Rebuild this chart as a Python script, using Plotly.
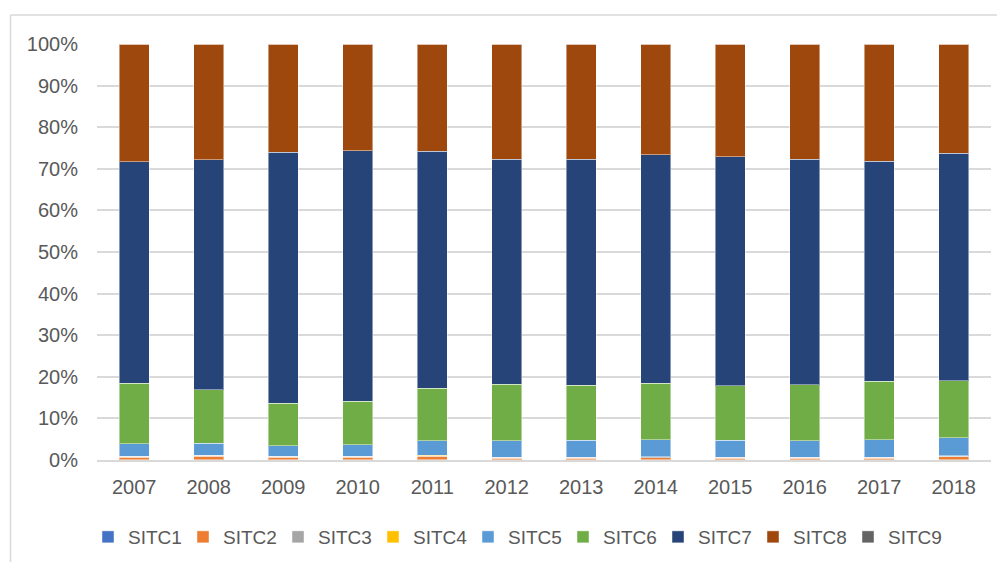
import plotly.graph_objects as go

years = ["2007", "2008", "2009", "2010", "2011", "2012", "2013", "2014", "2015", "2016", "2017", "2018"]

sitc1 = [0.05] * 12
sitc2 = [0.6, 0.9, 0.6, 0.6, 0.8, 0.4, 0.4, 0.5, 0.4, 0.4, 0.4, 0.7]
sitc3 = [0.2] * 12
sitc4 = [0.05] * 12
sitc5 = [3.0, 2.8, 2.5, 2.8, 3.5, 3.9, 4.0, 4.1, 4.0, 3.9, 4.2, 4.4]
sitc6 = [14.6, 12.9, 10.2, 10.4, 12.6, 13.6, 13.3, 13.6, 13.1, 13.5, 14.0, 13.7]
sitc7 = [53.2, 55.3, 60.4, 60.3, 57.0, 54.1, 54.3, 54.9, 55.1, 54.2, 52.9, 54.6]
sitc8 = [28.25, 27.75, 25.95, 25.55, 25.75, 27.65, 27.65, 26.55, 27.05, 27.65, 28.15, 26.25]
sitc9 = [0.05] * 12

series = [
    ("SITC1", sitc1, "#4472C4"),
    ("SITC2", sitc2, "#ED7D31"),
    ("SITC3", sitc3, "#A5A5A5"),
    ("SITC4", sitc4, "#FFC000"),
    ("SITC5", sitc5, "#5B9BD5"),
    ("SITC6", sitc6, "#70AD47"),
    ("SITC7", sitc7, "#264478"),
    ("SITC8", sitc8, "#9E480E"),
    ("SITC9", sitc9, "#636363"),
]

FONT = "Liberation Sans, Arial, sans-serif"
TXT = "#595959"

fig = go.Figure()
for name, vals, col in series:
    fig.add_trace(go.Bar(
        x=years, y=vals, name=name,
        marker=dict(color=col, line=dict(color="rgba(255,255,255,0.45)", width=1)),
    ))

# page has an 8px body margin; figure sized/offset to compensate
OFF = 8
W, H = 1005 - OFF, 562 - OFF
L, T = 97 - OFF, 44 - OFF
R = W - (991 - OFF)
B = H - (460 - OFF)
pw = W - L - R
ph = H - T - B

def px_x(p):
    return (p - OFF - L) / pw

def px_y(p):
    return (H - B - (p - OFF)) / ph

fig.update_layout(
    width=W, height=H,
    barmode="stack", barnorm="percent", bargap=0.6,
    margin=dict(l=L, r=R, t=T, b=B, pad=0, autoexpand=False),
    paper_bgcolor="white", plot_bgcolor="white",
    font=dict(family=FONT, size=20, color=TXT),
    xaxis=dict(showgrid=False, showline=True, linecolor="#D9D9D9", linewidth=2,
               ticks="", tickfont=dict(size=20, color=TXT), ticklabelstandoff=8),
    yaxis=dict(range=[0, 100], dtick=10, ticksuffix="%", showgrid=True,
               gridcolor="#D9D9D9", gridwidth=1.5, zeroline=False,
               showline=False, tickfont=dict(size=20, color=TXT), ticklabelstandoff=18),
    legend=dict(orientation="h", x=px_x(88), xanchor="left", y=px_y(537),
                yanchor="middle", font=dict(size=19, color=TXT),
                entrywidth=50, entrywidthmode="pixels", traceorder="normal",
                itemwidth=30, bgcolor="rgba(0,0,0,0)"),
    showlegend=True,
)

# chart area border (top and left edges visible)
x0 = px_x(10.5)
y1 = px_y(15)
fig.add_shape(type="line", xref="paper", yref="paper", x0=x0, x1=1.1, y0=y1, y1=y1,
              line=dict(color="#D9D9D9", width=1.5))
fig.add_shape(type="line", xref="paper", yref="paper", x0=x0, x1=x0, y0=y1, y1=-0.5,
              line=dict(color="#D9D9D9", width=1.5))

fig.write_html("out.html")
